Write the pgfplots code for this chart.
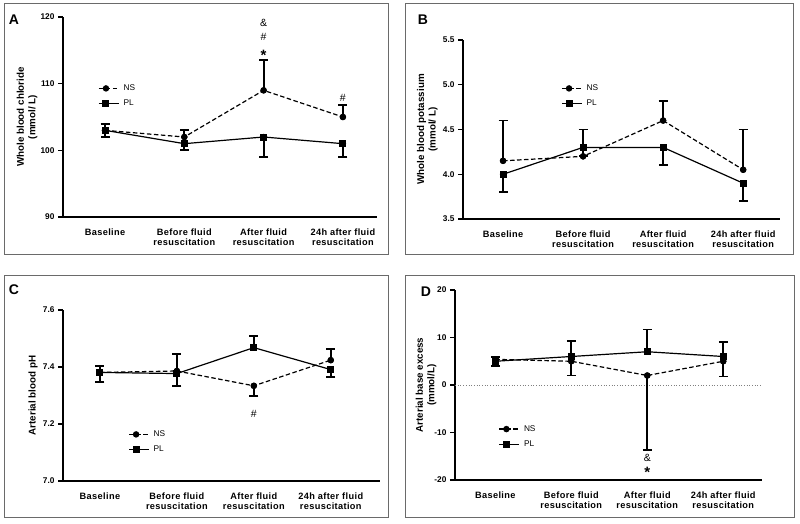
\documentclass[border=0pt]{standalone}
\usepackage{fontspec}
\setmainfont{Liberation Sans}
\newfontfamily\spaced[LetterSpace=4]{Liberation Sans}
\usepackage{pgfplots}
\pgfplotsset{compat=1.18}
\definecolor{framegray}{HTML}{6A6A6A}

\pgfplotsset{
  panel/.style={
    scale only axis, anchor=south west, clip=false,
    axis x line*=bottom, axis y line*=left,
    axis line style={line width=1.2pt, -},
    xtick={0,1,2,3},
    xticklabels={Baseline,{Before fluid\\resuscitation},{After fluid\\resuscitation},{24h after fluid\\resuscitation}},
    xtick style={draw=none},
    ytick style={line width=1.2pt, black},
    tick align=outside, major tick length=5pt,
    /pgf/number format/assume math mode=true,
    yticklabel style={font=\fontsize{8.3}{9}\selectfont\bfseries},
    xticklabel style={align=center, font=\spaced\fontsize{9.2}{10}\selectfont\bfseries, yshift=-3pt},
    ylabel style={font=\fontsize{9.8}{11.5}\selectfont\bfseries, align=center, anchor=south},
    legend style={draw=none, fill=none, font=\fontsize{8.3}{9}\selectfont, anchor=west, inner sep=0pt, row sep=4pt,
      nodes={inner xsep=4pt}},
    legend cell align=left,
    legend image code/.code={\path (0pt,0pt) -- (20pt,0pt);\draw[mark repeat=2, mark phase=2, #1] plot coordinates {(0pt,0pt) (7pt,0pt) (14pt,0pt)};},
  },
  ns/.style={black, line width=1.2pt, dash pattern=on 4.5pt off 2.5pt, mark=*, mark size=2.6pt, mark options={solid}},
  pl/.style={black, line width=1.2pt, mark=square*, mark size=2.9pt, mark options={solid}},
  ebup/.style={black, only marks, mark=none, forget plot, line width=2.2pt, solid,
    error bars/.cd, y dir=plus, y explicit,
    error bar style={black, line width=2.2pt, solid},
    error mark options={black, rotate=90, mark size=4.5pt, line width=1.8pt, solid}},
  ebdn/.style={black, only marks, mark=none, forget plot, line width=2.2pt, solid,
    error bars/.cd, y dir=minus, y explicit,
    error bar style={black, line width=2.2pt, solid},
    error mark options={black, rotate=90, mark size=4.5pt, line width=1.8pt, solid}},
}

\begin{document}
\begin{tikzpicture}
\path (0pt,0pt) rectangle (800pt,523pt);
% frames
\draw[framegray, line width=1pt] (4pt,519pt) rectangle (388pt,269pt);
\draw[framegray, line width=1pt] (405pt,519pt) rectangle (793pt,269pt);
\draw[framegray, line width=1pt] (4pt,248pt) rectangle (388pt,6pt);
\draw[framegray, line width=1pt] (405pt,248pt) rectangle (794pt,6pt);
\node[font=\fontsize{14}{14}\selectfont\bfseries] at (14pt,503pt) {A};
\node[font=\fontsize{14}{14}\selectfont\bfseries] at (423pt,503pt) {B};
\node[font=\fontsize{14}{14}\selectfont\bfseries] at (14pt,233pt) {C};
\node[font=\fontsize{14}{14}\selectfont\bfseries] at (426pt,231.5pt) {D};

% Panel A
\begin{axis}[panel, at={(63pt,306pt)}, width=314pt, height=200pt,
  xmin=-0.53, xmax=3.43, ymin=90, ymax=120, ytick={90,100,110,120},
  ylabel={Whole blood chloride\\(mmol/ L)},
  ylabel style={at={(axis description cs:-0.07,0.5)}},
  legend style={at={(axis description cs:0.112,0.605)}}]
\addplot[ns] coordinates {(0,103) (1,102) (2,109) (3,105)};
\addlegendentry{NS}
\addplot[pl] coordinates {(0,103) (1,101) (2,102) (3,101)};
\addlegendentry{PL}
\addplot[ebup] coordinates {(0,103) += (0,1) (1,102) += (0,1) (2,109) += (0,4.5) (3,105) += (0,1.75)};
\addplot[ebdn] coordinates {(0,103) -= (0,1) (1,101) -= (0,1) (2,102) -= (0,3) (3,101) -= (0,2)};
\node[inner sep=0pt, font=\fontsize{10.5}{10}\selectfont] at (axis cs:2,119.15) {\&};
\node[inner sep=0pt, font=\fontsize{10.5}{10}\selectfont] at (axis cs:2,116.95) {\#};
\node[inner sep=0pt, anchor=north, font=\fontsize{15}{15}\selectfont\bfseries] at (axis cs:2,115.0) {*};
\node[inner sep=0pt, font=\fontsize{10.5}{10}\selectfont] at (axis cs:3,107.93) {\#};
\end{axis}

% Panel B
\begin{axis}[panel, at={(463pt,304pt)}, width=317pt, height=179pt,
  xmin=-0.5, xmax=3.46, ymin=3.5, ymax=5.5, ytick={3.5,4.0,4.5,5.0,5.5},
  yticklabel style={/pgf/number format/.cd, fixed, fixed zerofill, precision=1},
  ylabel={Whole blood potassium\\(mmol/ L)},
  ylabel style={at={(axis description cs:-0.069,0.5)}},
  legend style={at={(axis description cs:0.31,0.687)}}]
\addplot[ns] coordinates {(0,4.15) (1,4.2) (2,4.6) (3,4.05)};
\addlegendentry{NS}
\addplot[pl] coordinates {(0,4.0) (1,4.3) (2,4.3) (3,3.9)};
\addlegendentry{PL}
\addplot[ebup] coordinates {(0,4.15) += (0,0.45) (1,4.2) += (0,0.3) (2,4.6) += (0,0.22) (3,4.05) += (0,0.45)};
\addplot[ebdn] coordinates {(0,4.0) -= (0,0.2) (1,4.3) -= (0,0.1) (2,4.3) -= (0,0.2) (3,3.9) -= (0,0.2)};
\end{axis}

% Panel C
\begin{axis}[panel, at={(63pt,42pt)}, width=317pt, height=171pt,
  xmin=-0.48, xmax=3.64, ymin=7.0, ymax=7.6, ytick={7.0,7.2,7.4,7.6},
  yticklabel style={/pgf/number format/.cd, fixed, fixed zerofill, precision=1},
  ylabel={Arterial blood pH},
  ylabel style={at={(axis description cs:-0.069,0.5)}},
  legend style={at={(axis description cs:0.206,0.228)}}]
\addplot[ns] coordinates {(0,7.381) (1,7.386) (2,7.334) (3,7.424)};
\addlegendentry{NS}
\addplot[pl] coordinates {(0,7.381) (1,7.377) (2,7.468) (3,7.391)};
\addlegendentry{PL}
\addplot[ebup] coordinates {(0,7.381) += (0,0.023) (1,7.386) += (0,0.06) (3,7.424) += (0,0.038)};
\addplot[ebdn] coordinates {(2,7.334) -= (0,0.036)};
\addplot[ebup] coordinates {(2,7.468) += (0,0.04)};
\addplot[ebdn] coordinates {(0,7.381) -= (0,0.034) (1,7.377) -= (0,0.043) (3,7.391) -= (0,0.026)};
\node[inner sep=0pt, font=\fontsize{10.5}{10}\selectfont] at (axis cs:2,7.236) {\#};
\end{axis}

% Panel D
\begin{axis}[panel, at={(455pt,43pt)}, width=307pt, height=190pt,
  xmin=-0.53, xmax=3.51, ymin=-20, ymax=20, ytick={-20,-10,0,10,20},
  ylabel={Arterial base excess\\(mmol/L)},
  ylabel style={at={(axis description cs:-0.049,0.5)}},
  legend style={at={(axis description cs:0.142,0.228)}}]
\addplot[forget plot, gray, dotted, line width=0.7pt] coordinates {(-0.53,0) (3.51,0)};
\addplot[ns] coordinates {(0,5.4) (1,5) (2,2) (3,5)};
\addlegendentry{NS}
\addplot[pl] coordinates {(0,5.0) (1,6) (2,7) (3,6)};
\addlegendentry{PL}
\addplot[ebup] coordinates {(0,5.4) += (0,0.5)};
\addplot[ebdn] coordinates {(1,5) -= (0,3) (2,2) -= (0,15.6) (3,5) -= (0,3.2)};
\addplot[ebdn] coordinates {(0,5.0) -= (0,1.0)};
\addplot[ebup] coordinates {(1,6) += (0,3.2) (2,7) += (0,4.7) (3,6) += (0,3.0)};
\node[inner sep=0pt, font=\fontsize{10.5}{10}\selectfont] at (axis cs:2,-15.4) {\&};
\node[inner sep=0pt, anchor=north, font=\fontsize{15}{15}\selectfont\bfseries] at (axis cs:2,-17.36) {*};
\end{axis}
\end{tikzpicture}
\end{document}
